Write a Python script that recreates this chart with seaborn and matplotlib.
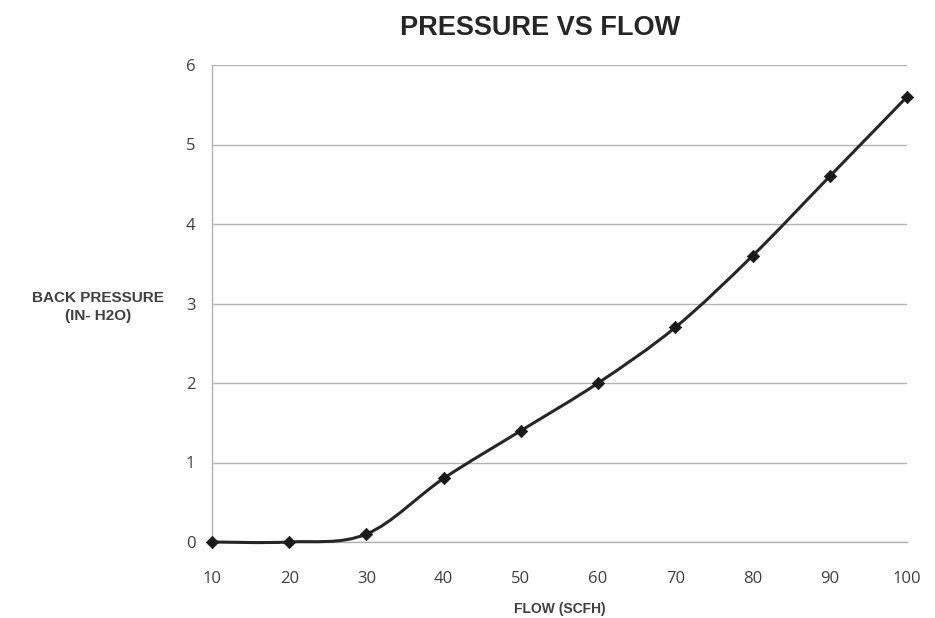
import matplotlib
matplotlib.use("Agg")
import matplotlib.pyplot as plt
from matplotlib.path import Path
from matplotlib.patches import PathPatch
import seaborn as sns
import pandas as pd

flow = [10, 20, 30, 40, 50, 60, 70, 80, 90, 100]
pressure = [0.0, 0.0, 0.1, 0.8, 1.4, 2.0, 2.7, 3.6, 4.6, 5.6]
x_ticks = [10, 20, 30, 40, 50, 60, 70, 80, 90, 100]
y_ticks = [0, 1, 2, 3, 4, 5, 6]

df = pd.DataFrame({"flow": flow, "pressure": pressure})

sns.set_theme(style="white")
plt.rcParams['font.family'] = ['Open Sans', 'DejaVu Sans']

fig = plt.figure(figsize=(9.35, 6.18), dpi=100)
ax = fig.add_axes([212/935, 76/618, 695/935, 477/618])

# Smoothed line (Excel-style Catmull-Rom Bezier) in data coordinates
pts = list(zip(flow, pressure))
n = len(pts)
verts = [pts[0]]
codes = [Path.MOVETO]
for i in range(n - 1):
    p0 = pts[i - 1] if i > 0 else pts[i]
    p1 = pts[i]
    p2 = pts[i + 1]
    p3 = pts[i + 2] if i + 2 < n else pts[i + 1]
    c1 = (p1[0] + (p2[0] - p0[0]) / 6, p1[1] + (p2[1] - p0[1]) / 6)
    c2 = (p2[0] - (p3[0] - p1[0]) / 6, p2[1] - (p3[1] - p1[1]) / 6)
    verts += [c1, c2, p2]
    codes += [Path.CURVE4] * 3
ax.add_patch(PathPatch(Path(verts, codes), facecolor="none", edgecolor="#262626",
                       lw=2.2, transform=ax.transData, zorder=3, clip_on=False))

sns.scatterplot(data=df, x="flow", y="pressure", marker="D", s=40, color="#1a1a1a",
                edgecolor="#1a1a1a", ax=ax, zorder=4, clip_on=False)

ax.set_xlim(10, 100)
ax.set_ylim(0, 6)
ax.set_xticks(x_ticks)
ax.set_yticks(y_ticks)
ax.grid(axis="y", color="#b3b3b3", lw=1.0)
ax.set_axisbelow(True)
for s in ["top", "right"]:
    ax.spines[s].set_visible(False)
for s in ["left", "bottom"]:
    ax.spines[s].set_color("#b3b3b3")
    ax.spines[s].set_linewidth(1.0)
ax.tick_params(axis="x", direction="in", length=6, color="#b3b3b3", width=1.0,
               labelsize=12, labelcolor="#404040", pad=21)
ax.tick_params(axis="y", length=0, labelsize=12, labelcolor="#404040", pad=12)

ax.set_xlabel("FLOW (SCFH)", fontsize=10, fontweight="bold", color="#404040",
              family=["Liberation Sans", "DejaVu Sans"], labelpad=11)
ax.set_ylabel("")
fig.text(98/935, 1 - 307/618, "BACK PRESSURE\n(IN- H2O)", ha="center", va="center",
         fontsize=11, fontweight="bold", color="#404040", linespacing=1.4,
         family=["Liberation Sans", "DejaVu Sans"])
fig.text(540/935, 1 - 28/618, "PRESSURE VS FLOW", ha="center", va="center",
         fontsize=19.5, fontweight="bold", color="#262626",
         family=["Liberation Sans", "DejaVu Sans"])

fig.savefig("out.png", dpi=100)
